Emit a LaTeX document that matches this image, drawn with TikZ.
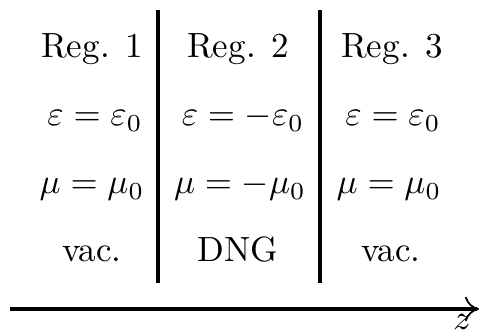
\documentclass[tikz,border=0pt]{standalone}
\usetikzlibrary{arrows.meta}
\begin{document}
\begin{tikzpicture}[x=0.2857pt, y=-0.2857pt,
    lbl/.style={anchor=base, inner sep=0pt},
    wall/.style={line width=1.2pt}]
    \useasboundingbox (0,0) rectangle (480,335);
    % region 1
    \node[lbl] (reg1) at (92,58) {Reg. 1};
    \node[lbl] (eps1) at (95,126) {$\varepsilon=\varepsilon_0$};
    \node[lbl] (mu1) at (92,194) {$\mu=\mu_0$};
    \node[lbl] (mat1) at (92,262) {vac.};
    % region 2
    \node[lbl] (reg2) at (238,58) {Reg. 2};
    \node[lbl] (eps2) at (243,126) {$\varepsilon=-\varepsilon_0$};
    \node[lbl] (mu2) at (240,194) {$\mu=-\mu_0$};
    \node[lbl] (mat2) at (238,262) {DNG};
    % region 3
    \node[lbl] (reg3) at (392,58) {Reg. 3};
    \node[lbl] (eps3) at (393,126) {$\varepsilon=\varepsilon_0$};
    \node[lbl] (mu3) at (389,194) {$\mu=\mu_0$};
    \node[lbl] (mat3) at (391,262) {vac.};
    % interfaces
    \coordinate (wa1) at (158,10);
    \coordinate (wa2) at (158,283);
    \coordinate (wb1) at (320,10);
    \coordinate (wb2) at (320,283);
    \draw[wall] (wa1) -- (wa2);
    \draw[wall] (wb1) -- (wb2);
    % axis
    \coordinate (z0) at (10,309);
    \coordinate (z1) at (479,309);
    \draw[wall, -{To[line width=0.5pt, length=4pt, width=7pt]}] (z0) -- (z1);
    \node[anchor=north east, inner sep=0pt] (zlbl) at (472,314) {$z$};
\end{tikzpicture}
\end{document}
